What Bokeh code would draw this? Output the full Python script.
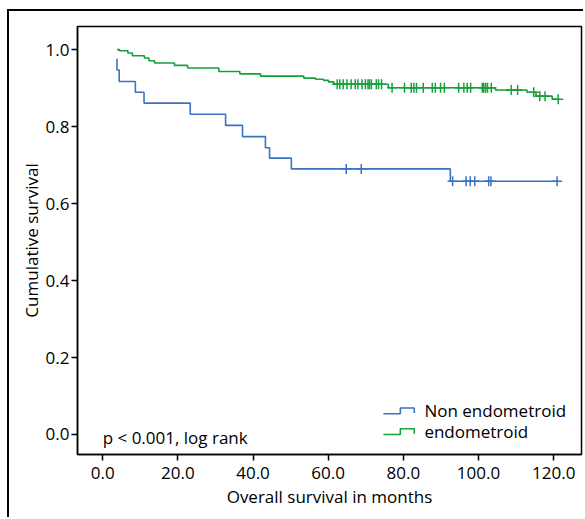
import numpy as np
from bokeh.plotting import figure
from bokeh.models import Range1d, FixedTicker, NumeralTickFormatter, Label
from bokeh.embed import file_html
from bokeh.resources import INLINE

# ---- data ----
# Non endometroid (blue): step times (months) and cumulative survival after each step
blue_time = [3.8, 3.8, 4.4, 8.7, 11.0, 23.3, 32.7, 37.2, 43.3, 44.4, 50.2, 92.5, 120.9]
blue_surv = [0.976, 0.947, 0.917, 0.889, 0.861, 0.832, 0.803, 0.774, 0.745, 0.718, 0.690, 0.658, 0.658]
blue_censored = [64.8, 68.8, 93.1, 96.7, 97.8, 99.0, 102.7, 103.3, 120.9]

# endometroid (green)
green_time = [3.8, 4.5, 6.7, 7.9, 11.1, 12.3, 13.8, 19.1, 22.6, 30.9, 36.5, 42.0,
              53.5, 56.6, 58.8, 60.1, 61.5, 76.0, 104.5, 112.9, 115.3, 119.6, 121.2]
green_surv = [1.0, 0.997, 0.991, 0.984, 0.978, 0.971, 0.965, 0.959, 0.952, 0.943, 0.937, 0.931,
              0.926, 0.923, 0.920, 0.916, 0.910, 0.901, 0.895, 0.889, 0.879, 0.871, 0.871]
green_censored = [62.4, 63.1, 64.0, 65.0, 66.1, 67.2, 67.9, 69.0, 69.9, 70.6, 71.0, 71.5,
                  72.8, 73.4, 74.2, 77.0, 80.3, 82.1, 82.8, 83.5, 85.3, 87.7, 88.5, 89.9,
                  90.9, 94.7, 96.1, 97.0, 97.9, 101.0, 101.4, 101.9, 102.4, 103.4, 108.7,
                  110.4, 114.7, 116.3, 117.7, 121.2]

x_ticks = [0, 20, 40, 60, 80, 100, 120]
y_ticks = [0.0, 0.2, 0.4, 0.6, 0.8, 1.0]

series_names = ["Non endometroid", "endometroid"]
BLUE = "#3a73c0"
GREEN = "#16a03c"
FONT = "Open Sans"
TXT = "#000000"


def surv_at(times, survs, t):
    times = np.asarray(times)
    survs = np.asarray(survs)
    idx = np.searchsorted(times, t, side="right") - 1
    return survs[np.clip(idx, 0, len(survs) - 1)]


p = figure(width=583, height=517, output_backend="svg", toolbar_location=None,
           x_range=Range1d(-6.7, 127.4), y_range=Range1d(-0.052, 1.06),
           min_border_left=77, min_border_right=2, min_border_top=26, min_border_bottom=63)

# outer box (top and left edges visible in the reference)
p.border_fill_color = None
p.styles = {"box-shadow": "inset 7px 9px 0 0 #fff, inset 9px 11px 0 0 #000"}
p.xgrid.visible = False
p.ygrid.visible = False
p.outline_line_color = "black"
p.outline_line_width = 1.5

for ax in (p.xaxis[0], p.yaxis[0]):
    ax.axis_line_color = "black"
    ax.axis_line_width = 1.5
    ax.major_tick_line_color = "black"
    ax.major_tick_line_width = 1.5
    ax.major_tick_out = 6
    ax.major_tick_in = 0
    ax.minor_tick_line_color = None
    ax.major_label_text_font = FONT
    ax.major_label_text_font_size = "17px"
    ax.major_label_text_color = TXT
    ax.axis_label_text_font = FONT
    ax.axis_label_text_font_size = "17px"
    ax.axis_label_text_font_style = "normal"
    ax.axis_label_text_color = TXT
    ax.formatter = NumeralTickFormatter(format="0.0")

p.xaxis.ticker = FixedTicker(ticks=x_ticks)
p.yaxis.ticker = FixedTicker(ticks=y_ticks)
p.xaxis.axis_label = "Overall survival in months"
p.yaxis.axis_label = "Cumulative survival"
p.xaxis.major_label_standoff = 6
p.yaxis.major_label_standoff = 2
p.xaxis.axis_label_standoff = 3
p.yaxis.axis_label_standoff = 0

# curves
p.step(blue_time, blue_surv, mode="after", line_color=BLUE, line_width=1.6)
p.step(green_time, green_surv, mode="after", line_color=GREEN, line_width=1.6)

# censor marks
p.scatter(blue_censored, surv_at(blue_time, blue_surv, blue_censored), marker="cross",
          size=10, line_color=BLUE, line_width=1.5)
p.scatter(green_censored, surv_at(green_time, green_surv, green_censored), marker="cross",
          size=10, line_color=GREEN, line_width=1.5)

# legend (step-shaped icons)
LEG_X = 74.7       # icon left (data x)
LEG_W1 = 4.5       # lower part width
LEG_W2 = 3.7       # upper part width
LEG_Y = [0.054, 0.0]  # icon lower level of each row
LEG_H = 0.015
for name, col, y0 in zip(series_names, [BLUE, GREEN], LEG_Y):
    xs = [LEG_X, LEG_X + LEG_W1, LEG_X + LEG_W1, LEG_X + LEG_W1 + LEG_W2, LEG_X + LEG_W1 + LEG_W2]
    ys = [y0, y0, y0 + LEG_H, y0 + LEG_H, y0 + 0.002]
    p.line(xs, ys, line_color=col, line_width=1.6)
    p.add_layout(Label(x=LEG_X + LEG_W1 + LEG_W2 + 2.7, y=y0 + 0.008, text=name,
                       text_font=FONT, text_font_size="17px", text_color=TXT,
                       text_baseline="middle", text_align="left"))

p.add_layout(Label(x=0, y=-0.008, text="p < 0.001, log rank", text_font=FONT,
                   text_font_size="17px", text_color=TXT, text_baseline="middle",
                   text_align="left"))

open("out.html", "w").write(file_html(p, INLINE))
